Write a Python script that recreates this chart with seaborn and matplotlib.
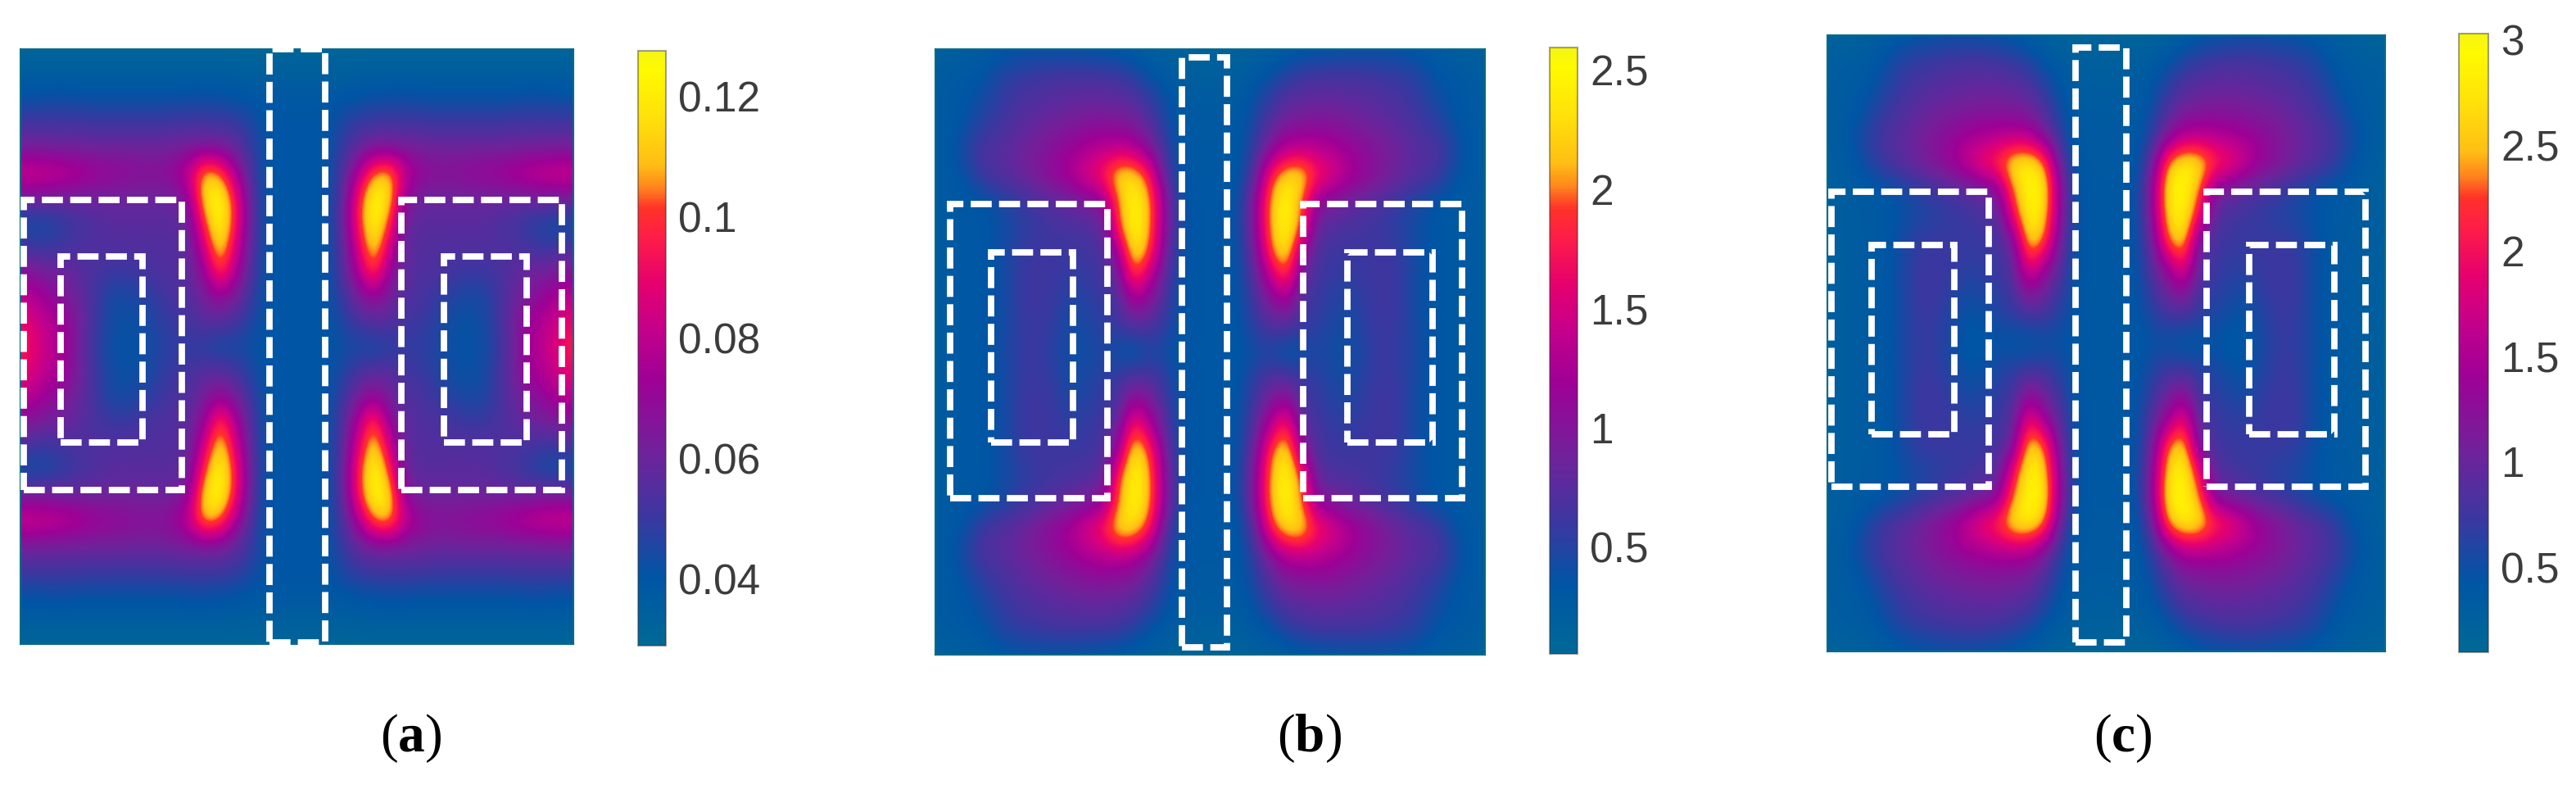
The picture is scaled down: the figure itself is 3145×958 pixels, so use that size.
import matplotlib
matplotlib.use('Agg')
import matplotlib.pyplot as plt
import seaborn as sns
import numpy as np
from matplotlib.colors import LinearSegmentedColormap
from matplotlib.patches import Rectangle

W, H = 3145, 958

# field values, top left quarter of each panel (the fields are mirrored)
# panel a in 1e-3, panels b and c in 1e-2
quarter_a = [
    [31, 31, 31, 31, 31, 31, 31, 31, 31, 31, 31, 31, 31, 31, 31, 31, 31, 31, 31],
    [36, 36, 36, 36, 36, 36, 36, 36, 36, 36, 36, 36, 36, 36, 36, 35, 35, 35, 35],
    [42, 42, 43, 43, 42, 42, 42, 42, 42, 42, 42, 43, 43, 42, 41, 40, 39, 39, 39],
    [52, 52, 52, 52, 52, 51, 51, 51, 51, 51, 52, 52, 52, 52, 50, 46, 40, 40, 40],
    [62, 62, 62, 61, 61, 61, 61, 61, 61, 61, 62, 63, 64, 63, 58, 50, 41, 40, 40],
    [86, 86, 84, 82, 78, 74, 72, 70, 68, 68, 72, 84, 114, 106, 76, 53, 41, 40, 40],
    [62, 62, 62, 60, 60, 60, 60, 60, 60, 60, 60, 70, 118, 127, 95, 57, 41, 40, 40],
    [42, 42, 44, 48, 52, 54, 56, 56, 56, 56, 56, 60, 102, 127, 97, 58, 41, 40, 40],
    [54, 50, 50, 52, 54, 55, 55, 55, 55, 55, 55, 58, 85, 120, 86, 56, 41, 40, 40],
    [68, 64, 62, 60, 56, 52, 50, 50, 52, 54, 55, 57, 70, 104, 76, 54, 41, 40, 40],
    [82, 76, 70, 64, 58, 50, 44, 44, 46, 50, 53, 55, 62, 70, 62, 50, 41, 40, 40],
    [92, 84, 78, 72, 60, 50, 43, 42, 43, 47, 50, 52, 56, 56, 52, 46, 40, 40, 40],
    [98, 88, 80, 72, 58, 48, 42, 41, 42, 46, 48, 48, 46, 42, 44, 42, 40, 40, 40],
]
quarter_b = [
    [16, 20, 22, 24, 28, 32, 34, 34, 34, 34, 32, 30, 28, 24, 20, 18, 16, 16, 16],
    [24, 28, 30, 34, 46, 54, 58, 62, 64, 64, 64, 64, 60, 50, 38, 28, 22, 20, 20],
    [26, 30, 34, 42, 52, 62, 68, 72, 76, 78, 80, 80, 78, 72, 58, 42, 28, 26, 26],
    [26, 30, 38, 52, 62, 70, 78, 84, 90, 96, 102, 104, 100, 95, 76, 50, 32, 28, 28],
    [26, 32, 50, 68, 72, 80, 90, 98, 108, 118, 128, 138, 142, 135, 104, 62, 34, 30, 30],
    [26, 30, 40, 60, 72, 78, 88, 102, 116, 132, 160, 180, 235, 230, 185, 80, 36, 30, 30],
    [26, 28, 30, 34, 42, 52, 62, 70, 78, 86, 95, 112, 200, 255, 215, 110, 42, 32, 32],
    [26, 28, 30, 32, 38, 46, 54, 60, 64, 68, 72, 78, 195, 255, 215, 110, 44, 32, 32],
    [26, 28, 30, 32, 38, 50, 60, 62, 62, 60, 62, 68, 120, 245, 200, 95, 42, 32, 32],
    [26, 28, 30, 32, 38, 50, 62, 62, 60, 54, 58, 64, 85, 195, 140, 78, 40, 32, 32],
    [26, 28, 30, 32, 38, 50, 62, 62, 56, 46, 52, 58, 68, 120, 100, 66, 38, 32, 32],
    [26, 28, 30, 32, 38, 50, 60, 60, 52, 42, 46, 54, 60, 70, 70, 56, 36, 32, 32],
    [26, 28, 30, 32, 40, 50, 58, 58, 48, 40, 42, 48, 36, 30, 44, 42, 32, 32, 32],
]
quarter_c = [
    [18, 22, 24, 28, 32, 38, 42, 44, 46, 46, 44, 42, 38, 30, 24, 20, 18, 18, 18],
    [28, 30, 32, 38, 52, 64, 70, 74, 78, 80, 80, 76, 70, 60, 44, 32, 28, 26, 26],
    [30, 32, 36, 46, 62, 74, 82, 88, 92, 94, 96, 96, 92, 84, 66, 44, 32, 30, 30],
    [30, 34, 42, 60, 74, 86, 96, 104, 110, 114, 118, 118, 115, 108, 85, 54, 36, 34, 34],
    [30, 36, 54, 72, 86, 96, 108, 120, 132, 144, 152, 160, 165, 160, 122, 68, 38, 36, 36],
    [28, 32, 44, 64, 80, 92, 106, 122, 140, 170, 204, 226, 280, 290, 250, 100, 42, 36, 36],
    [28, 30, 34, 38, 44, 54, 64, 74, 82, 90, 102, 118, 240, 295, 285, 130, 46, 38, 38],
    [28, 30, 34, 36, 40, 48, 56, 62, 68, 74, 80, 88, 200, 295, 270, 125, 48, 38, 38],
    [28, 30, 32, 36, 42, 58, 70, 72, 72, 70, 72, 78, 105, 275, 240, 105, 46, 38, 38],
    [28, 30, 32, 36, 42, 60, 74, 74, 72, 66, 68, 74, 88, 205, 140, 90, 46, 38, 38],
    [28, 30, 32, 36, 42, 60, 74, 74, 66, 54, 58, 66, 78, 130, 105, 72, 44, 38, 38],
    [28, 30, 32, 36, 42, 58, 72, 70, 58, 44, 48, 58, 64, 74, 74, 60, 42, 38, 38],
    [28, 30, 32, 36, 44, 58, 70, 68, 54, 40, 38, 44, 40, 36, 44, 46, 38, 38, 38],
]
scale_a, scale_b, scale_c = 1e-3, 1e-2, 1e-2

# colorbar limits and ticks
vmin_a, vmax_a = 0.029, 0.1275
vmin_b, vmax_b = 0.053, 2.594
vmin_c, vmax_c = 0.096, 3.03
ticks_a = [0.04, 0.06, 0.08, 0.1, 0.12]
ticks_b = [0.5, 1, 1.5, 2, 2.5]
ticks_c = [0.5, 1, 1.5, 2, 2.5, 3]
ticklabels_a = ['0.04', '0.06', '0.08', '0.1', '0.12']
ticklabels_b = ['0.5', '1', '1.5', '2', '2.5']
ticklabels_c = ['0.5', '1', '1.5', '2', '2.5', '3']
panel_labels = ['a', 'b', 'c']

# layout in image pixels: left, top, right, bottom
plot_boxes = [(25, 60, 700, 786), (1142, 60, 1813, 799), (2231, 43, 2912, 795)]
cbar_boxes = [(779, 62, 813, 788), (1892, 58, 1926, 798), (3002, 41, 3038, 796)]
label_x = [502, 1598, 2592]
dash_boxes = [
    [(329, 60, 397, 784), (29, 244, 222, 598), (74, 313, 174, 540), (490, 244, 686, 598), (542, 313, 643, 540)],
    [(1443, 70, 1498, 790), (1160, 249, 1352, 608), (1210, 308, 1310, 540), (1591, 249, 1785, 608), (1645, 308, 1749, 540)],
    [(2534, 58, 2596, 784), (2236, 234, 2428, 594), (2285, 299, 2386, 530), (2694, 234, 2888, 594), (2746, 299, 2850, 530)],
]

cmap = LinearSegmentedColormap.from_list('field', [
    (0.0, (0/255, 105/255, 150/255)),
    (0.115, (0/255, 85/255, 165/255)),
    (0.216, (60/255, 55/255, 160/255)),
    (0.32, (110/255, 35/255, 155/255)),
    (0.45, (160/255, 0/255, 150/255)),
    (0.53, (195/255, 0/255, 140/255)),
    (0.61, (230/255, 0/255, 110/255)),
    (0.69, (255/255, 30/255, 70/255)),
    (0.736, (255/255, 50/255, 40/255)),
    (0.77, (255/255, 130/255, 30/255)),
    (0.81, (255/255, 190/255, 20/255)),
    (0.89, (255/255, 225/255, 10/255)),
    (0.97, (255/255, 250/255, 0/255)),
    (1.0, (245/255, 245/255, 20/255)),
])

sns.set_theme(style='white')
plt.rcParams['font.family'] = ['Liberation Sans', 'DejaVu Sans']
plt.rcParams['mathtext.fontset'] = 'custom'
plt.rcParams['mathtext.bf'] = 'Liberation Serif:bold'
plt.rcParams['mathtext.rm'] = 'Liberation Serif'


def px_axes(fig, box):
    x0, y0, x1, y1 = box
    return fig.add_axes([x0 / W, 1 - y1 / H, (x1 - x0) / W, (y1 - y0) / H])


def full_field(quarter, scale):
    top_left = np.array(quarter, dtype=float) * scale
    top = np.hstack([top_left, top_left[:, -2::-1]])
    return np.vstack([top, top[-2::-1, :]])


def draw_panel(fig, quarter, scale, vmin, vmax, ticks, ticklabels, plot_box, cbar_box, dashes, name, lx):
    ax = px_axes(fig, plot_box)
    cax = px_axes(fig, cbar_box)
    field = full_field(quarter, scale)
    nrows, ncols = field.shape
    sns.heatmap(field, ax=ax, cbar_ax=cax, cmap=cmap, vmin=vmin, vmax=vmax,
                xticklabels=False, yticklabels=False)
    # heatmap gives the axes and the colorbar, the smooth look comes from imshow on top
    ax.collections[0].set_visible(False)
    ax.imshow(field, cmap=cmap, vmin=vmin, vmax=vmax, aspect='auto', origin='upper',
              extent=(0, ncols, nrows, 0), interpolation='bicubic')
    ax.set_xlim(0.5, ncols - 0.5)
    ax.set_ylim(nrows - 0.5, 0.5)
    for side in ax.spines.values():
        side.set_visible(True)
        side.set_color('#0b6a86')
        side.set_linewidth(1.5)

    cbar = ax.collections[0].colorbar
    cbar.set_ticks(ticks)
    cbar.set_ticklabels(ticklabels)
    cax.tick_params(length=0, pad=11, labelsize=37, labelcolor='#3c3c3c')
    cbar.outline.set_edgecolor((0.2, 0.2, 0.2, 0.45))
    cbar.outline.set_linewidth(1.5)

    # dashed outlines of the rod and the two windings
    for x0, y0, x1, y1 in dashes:
        fig.add_artist(Rectangle((x0 / W, 1 - y1 / H), (x1 - x0) / W, (y1 - y0) / H,
                                 transform=fig.transFigure, fill=False, edgecolor='white',
                                 linewidth=5.6, linestyle=(0, (3.3, 1.15)), zorder=5))

    fig.text(lx / W, 1 - 901 / H, r'($\mathbf{%s}$)' % name, ha='center', va='center',
             fontsize=47, family='Liberation Serif', color='black')


fig = plt.figure(figsize=(W / 100, H / 100), dpi=100)
draw_panel(fig, quarter_a, scale_a, vmin_a, vmax_a, ticks_a, ticklabels_a,
           plot_boxes[0], cbar_boxes[0], dash_boxes[0], panel_labels[0], label_x[0])
draw_panel(fig, quarter_b, scale_b, vmin_b, vmax_b, ticks_b, ticklabels_b,
           plot_boxes[1], cbar_boxes[1], dash_boxes[1], panel_labels[1], label_x[1])
draw_panel(fig, quarter_c, scale_c, vmin_c, vmax_c, ticks_c, ticklabels_c,
           plot_boxes[2], cbar_boxes[2], dash_boxes[2], panel_labels[2], label_x[2])
fig.savefig('out.png', dpi=100)
plt.close(fig)
